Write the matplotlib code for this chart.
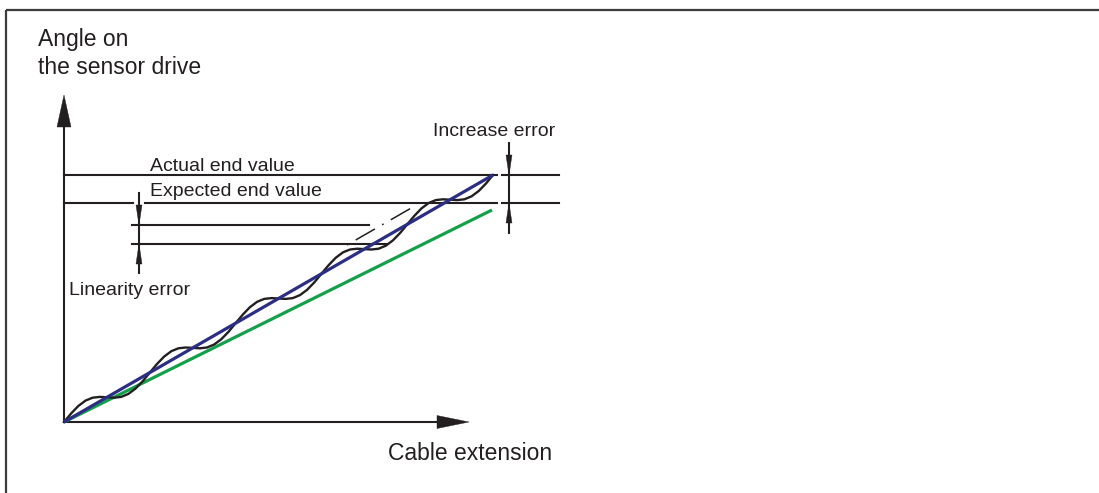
import matplotlib
matplotlib.use("Agg")
import matplotlib.pyplot as plt
from matplotlib.patches import Polygon

# diagram coordinates (pixel units, y grows downward)
origin = (64, 422)
x_axis_end = 469
y_axis_end = 95

actual_end = (493, 175)      # end of blue line / wavy curve
expected_end = (492, 210)    # end of green line
actual_y = 175
expected_y = 203
lin_upper_y = 225
lin_lower_y = 244

curve_x = [64.0, 71.2, 78.3, 85.5, 92.6, 99.8, 106.9, 114.1, 121.2, 128.4,
           135.5, 142.7, 149.8, 157.0, 164.1, 171.3, 178.4, 185.6, 192.7, 199.9,
           207.0, 214.2, 221.3, 228.5, 235.6, 242.8, 249.9, 257.1, 264.2, 271.4,
           278.5, 285.7, 292.8, 300.0, 307.1, 314.3, 321.4, 328.6, 335.7, 342.9,
           350.0, 357.2, 364.3, 371.5, 378.6, 385.8, 392.9, 400.1, 407.2, 414.4,
           421.5, 428.7, 435.8, 443.0, 450.1, 457.3, 464.4, 471.6, 478.7, 485.9,
           493.0]
curve_y = [422.0, 413.4, 406.0, 400.6, 397.7, 396.9, 397.3, 397.7, 396.9, 393.9,
           388.6, 381.2, 372.6, 364.0, 356.6, 351.2, 348.3, 347.5, 347.9, 348.3,
           347.5, 344.5, 339.2, 331.8, 323.2, 314.6, 307.2, 301.8, 298.9, 298.1,
           298.5, 298.9, 298.1, 295.1, 289.8, 282.4, 273.8, 265.2, 257.8, 252.4,
           249.5, 248.7, 249.1, 249.5, 248.7, 245.7, 240.4, 233.0, 224.4, 215.8,
           208.4, 203.0, 200.1, 199.3, 199.7, 200.1, 199.3, 196.3, 191.0, 183.6,
           175.0]

labels = {
    "y1": "Angle on",
    "y2": "the sensor drive",
    "x": "Cable extension",
    "actual": "Actual end value",
    "expected": "Expected end value",
    "linearity": "Linearity error",
    "increase": "Increase error",
}

ink = "#231f20"
blue = "#2b2e83"
green = "#14a04a"

plt.rcParams["font.family"] = ["Liberation Sans", "DejaVu Sans"]
plt.rcParams["lines.scale_dashes"] = False

fig = plt.figure(figsize=(10.99, 4.93), dpi=100)
ax = fig.add_axes([0, 0, 1, 1])
ax.set_xlim(0, 1099)
ax.set_ylim(493, 0)
ax.axis("off")


def head(tip, direction, length, half):
    # filled triangular arrow head, direction: 'up', 'down', 'right'
    tx, ty = tip
    if direction == "up":
        pts = [(tx, ty), (tx - half, ty + length), (tx + half, ty + length)]
    elif direction == "down":
        pts = [(tx, ty), (tx - half, ty - length), (tx + half, ty - length)]
    else:
        pts = [(tx, ty), (tx - length, ty - half), (tx - length, ty + half)]
    ax.add_patch(Polygon(pts, closed=True, facecolor=ink, edgecolor=ink, lw=0.3, zorder=5))


# frame (top and left edges)
ax.plot([6, 1099], [10, 10], color="#3c3c3c", lw=1.6, solid_capstyle="butt")
ax.plot([6, 6], [10, 493], color="#3c3c3c", lw=1.6, solid_capstyle="butt")

# axes with arrows
ax.plot([origin[0], origin[0]], [origin[1], y_axis_end + 20], color=ink, lw=1.5)
ax.plot([origin[0], x_axis_end - 20], [origin[1], origin[1]], color=ink, lw=1.5)
head((origin[0], y_axis_end), "up", 32, 7)
head((x_axis_end, origin[1]), "right", 32, 6.5)

# end value lines
ax.plot([origin[0], 497], [actual_y, actual_y], color=ink, lw=1.5)
ax.plot([origin[0], 133], [expected_y, expected_y], color=ink, lw=1.5)
ax.plot([145, 497], [expected_y, expected_y], color=ink, lw=1.5)
ax.plot([502, 559], [actual_y, actual_y], color=ink, lw=1.5)
ax.plot([502, 559], [expected_y, expected_y], color=ink, lw=1.5)

# linearity error band lines
ax.plot([132, 369], [lin_upper_y, lin_upper_y], color=ink, lw=1.5)
ax.plot([132, 387], [lin_lower_y, lin_lower_y], color=ink, lw=1.5)

# dash-dot helper line parallel to the actual line
slope = (actual_end[1] - origin[1]) / (actual_end[0] - origin[0])
dd_x = [347, 413]
dd_y = [lin_lower_y + 1, lin_lower_y + 1 + slope * (dd_x[1] - dd_x[0])]
ax.plot(dd_x, dd_y, color=ink, lw=1.1, dashes=(1.2, 6, 16, 6))

# linearity error dimension arrows
ax.plot([139, 139], [193, 273], color=ink, lw=1.5)
head((139, lin_upper_y), "down", 20, 3)
head((139, lin_lower_y), "up", 20, 3)

# increase error dimension arrows
ax.plot([509, 509], [143, 233], color=ink, lw=1.5)
head((509, actual_y), "down", 20, 3)
head((509, expected_y), "up", 20, 3)

# characteristic lines
ax.plot([origin[0], expected_end[0]], [origin[1], expected_end[1]], color=green, lw=2.3,
        solid_capstyle="butt", zorder=3)
ax.plot([origin[0], actual_end[0]], [origin[1], actual_end[1]], color=blue, lw=2.3,
        solid_capstyle="butt", zorder=4)
ax.plot(curve_x, curve_y, color=ink, lw=1.7, zorder=3)

# texts
ax.text(38, 46, labels["y1"], fontsize=16.5, color=ink, va="baseline")
ax.text(38, 74, labels["y2"], fontsize=16.5, color=ink, va="baseline")
ax.text(388, 460, labels["x"], fontsize=16.5, color=ink, va="baseline")
ax.text(150, 171, labels["actual"], fontsize=14, color=ink, va="baseline")
ax.text(150, 196, labels["expected"], fontsize=14, color=ink, va="baseline")
ax.text(69, 295, labels["linearity"], fontsize=14, color=ink, va="baseline")
ax.text(433, 136, labels["increase"], fontsize=14, color=ink, va="baseline")

fig.savefig("out.png", dpi=100)
